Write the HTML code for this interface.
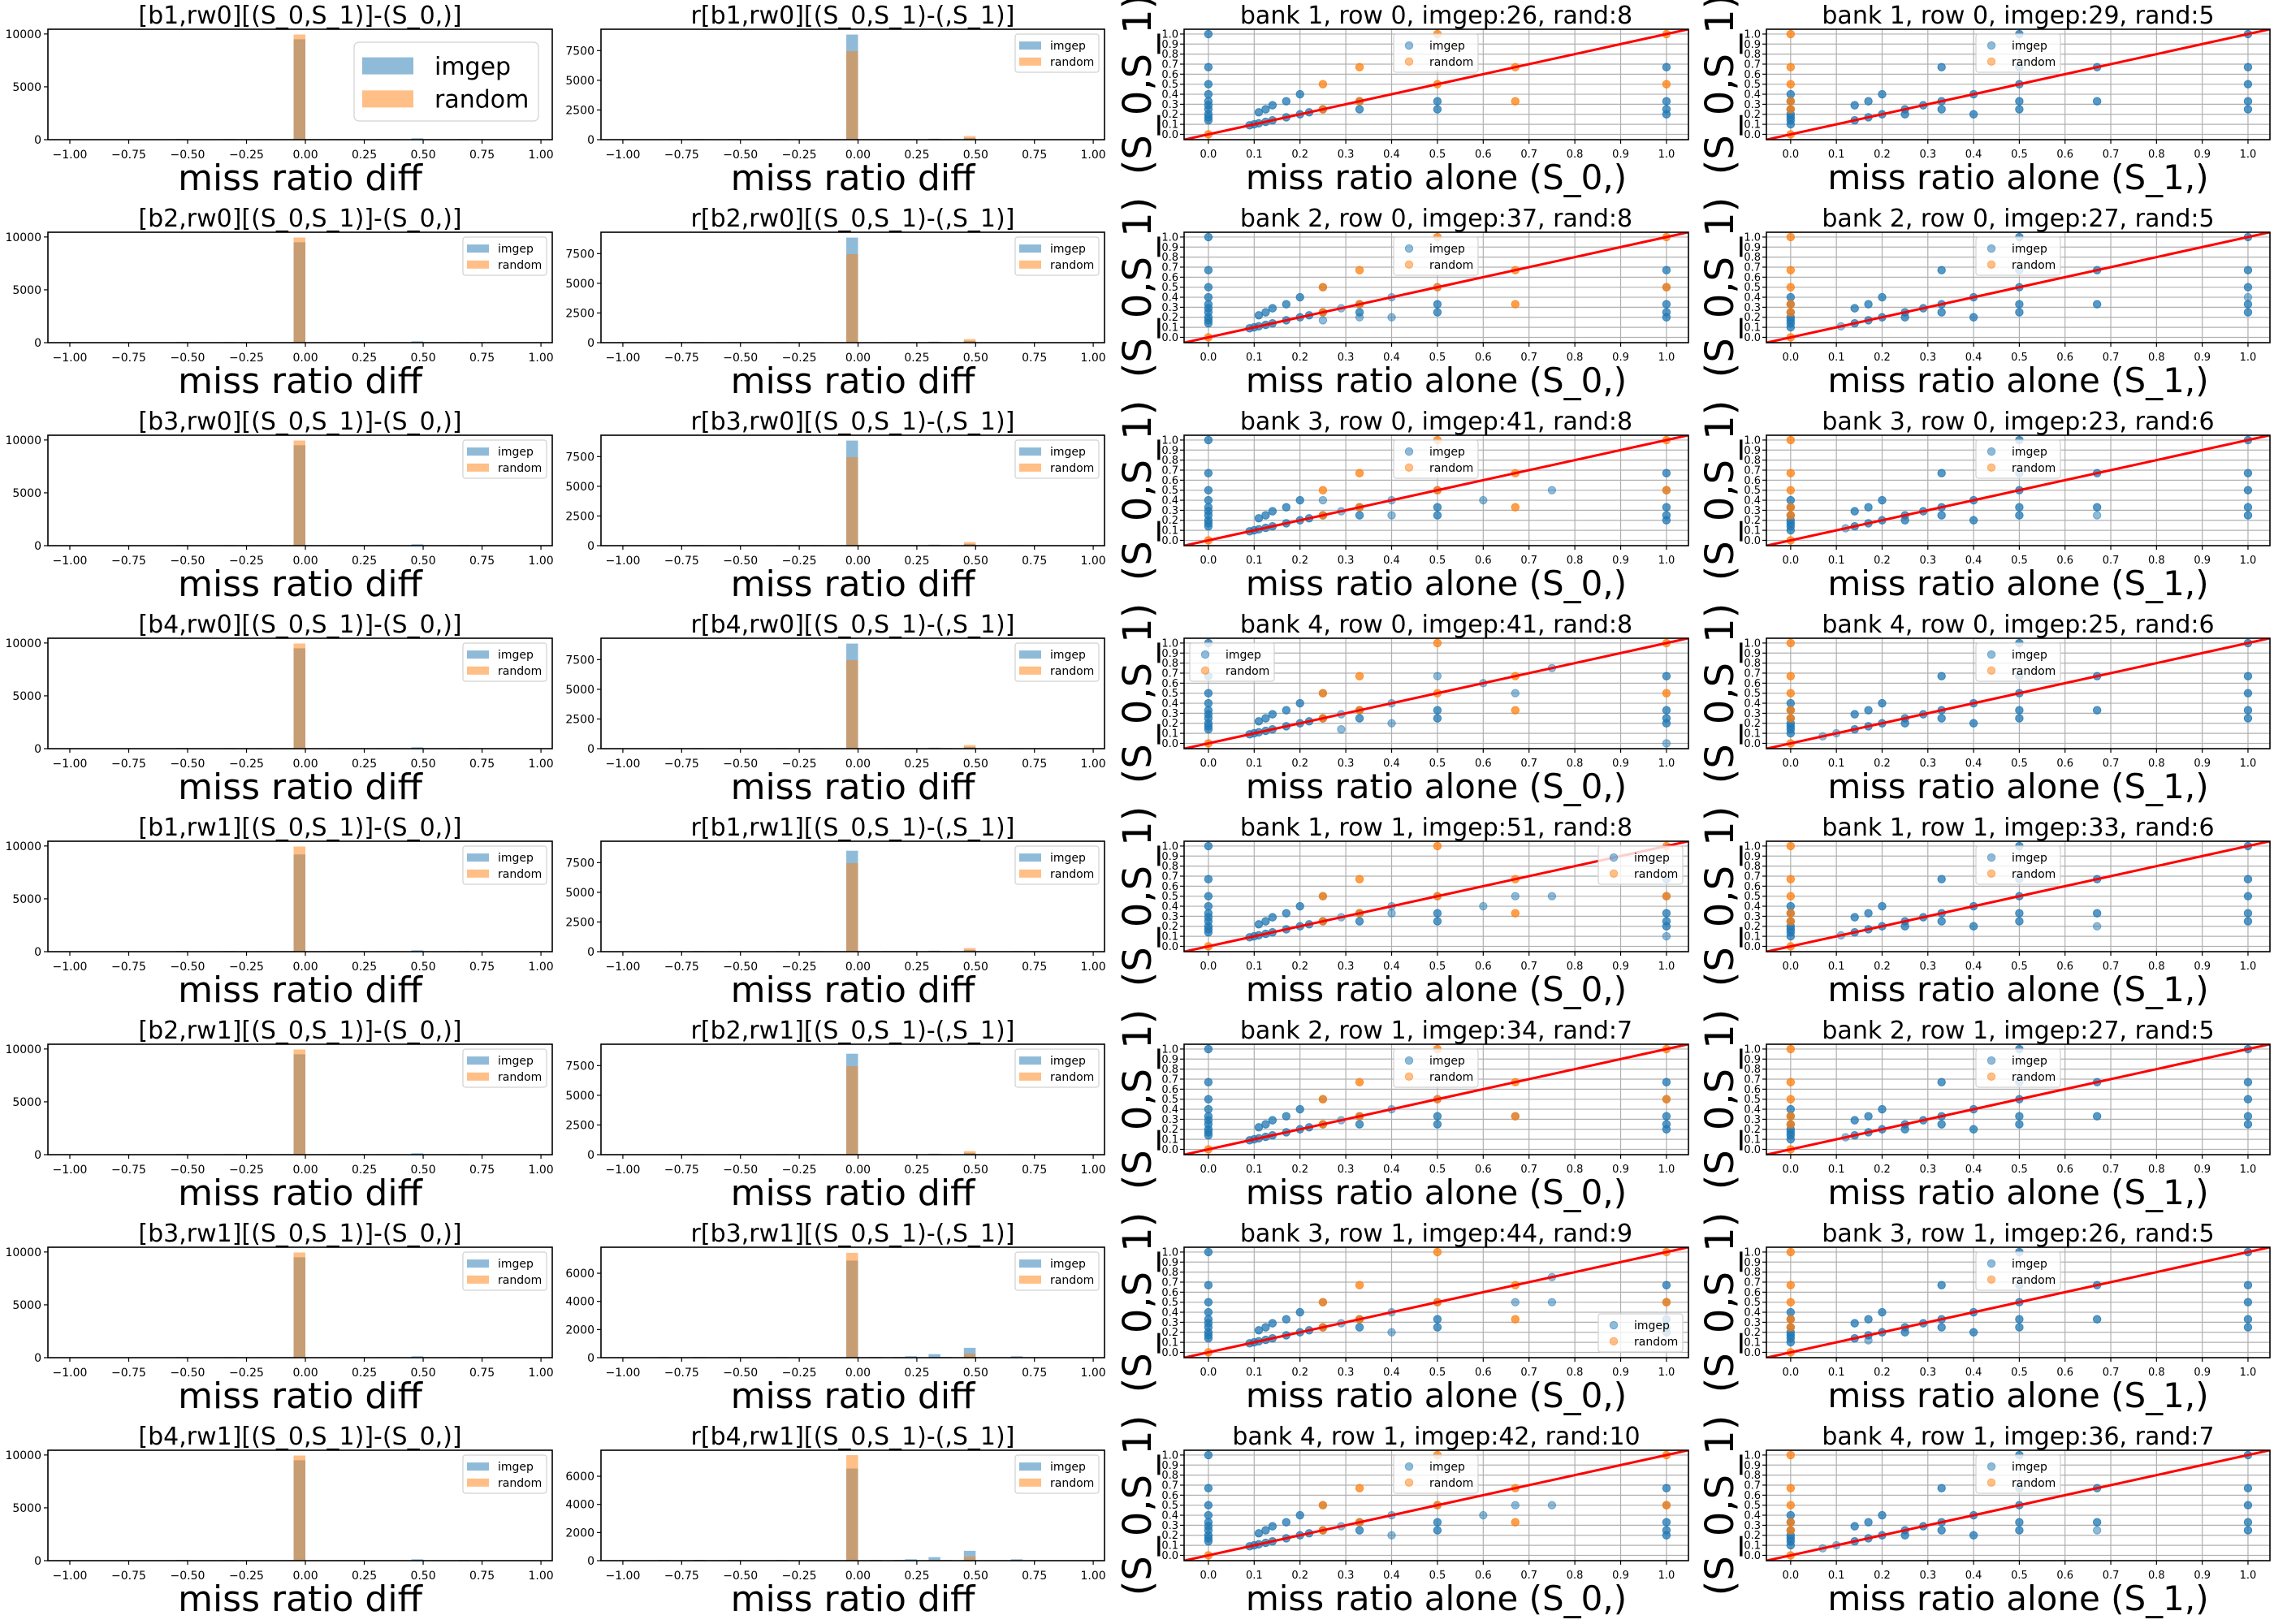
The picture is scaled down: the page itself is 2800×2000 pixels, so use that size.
<!DOCTYPE html>
<html><head><meta charset="utf-8"><title>miss ratio chart grid</title>
<style>
html,body{margin:0;padding:0;background:#fff;}
svg{display:block;font-family:"DejaVu Sans","Liberation Sans",sans-serif;}
</style></head>
<body>
<svg id="fig" xmlns="http://www.w3.org/2000/svg" width="2800" height="2000" viewBox="0 0 2800 2000">
<rect x="0" y="0" width="2800" height="2000" fill="#fff"/>
</svg>
<script>
// ---------- data ----------
const rowBanks = [1,2,3,4,1,2,3,4];
const rowRws = [0,0,0,0,1,1,1,1];
const col3Counts = [[26,8],[37,8],[41,8],[41,8],[51,8],[34,7],[44,9],[42,10]];
const col4Counts = [[29,5],[27,5],[23,6],[25,6],[33,6],[27,5],[26,5],[36,7]];
const col3LegendPos = ['uc','uc','uc','ul','ur','uc','lr','uc'];

const histXTicks = [-1.0,-0.75,-0.5,-0.25,0.0,0.25,0.5,0.75,1.0];
const histXTickLabels = ['\u22121.00','\u22120.75','\u22120.50','\u22120.25','0.00','0.25','0.50','0.75','1.00'];
const col1YTicks = [0,5000,10000];
const col1YMax = [10450,10450,10450,10450,10450,10450,10450,10450];
const col2YTicksA = [0,2500,5000,7500];
const col2YTicksB = [0,2000,4000,6000];
const col2YMax = [9300,9300,9300,9300,9300,9300,7850,7850];

// bins: [binLeft, count]
const col1ImgepPeak = [9500,9500,9500,9500,9200,9500,9500,9500];
const col1RandomPeak = [9950,9950,9950,9950,9950,9950,9950,9950];
const col1ImgepSmall = [[-0.55,60],[-0.35,60],[-0.2,50],[-0.1,50],[0.1,50],[0.15,50],[0.2,50],[0.35,50],[0.45,130],[0.65,60]];
const col1RandomSmall = [[-0.55,60],[0.3,50]];
const col2ImgepPeak = [8850,8850,8850,8850,8500,8500,6900,6550];
const col2RandomPeak = [7450,7450,7450,7450,7450,7450,7450,7500];
const col2ImgepSmallA = [[-0.8,50],[-0.7,50],[-0.55,50],[-0.35,50],[-0.2,50],[0.1,50],[0.15,50],[0.2,50],[0.3,80],[0.35,50],[0.45,150]];
const col2RandomSmallA = [[0.3,50],[0.45,300],[0.65,50]];
const col2ImgepSmallB = [[-0.85,50],[-0.7,50],[-0.55,50],[-0.35,50],[0.05,50],[0.15,50],[0.2,100],[0.3,250],[0.35,50],[0.45,700],[0.65,100]];
const col2RandomSmallB = [[0.3,40],[0.45,290],[0.65,40]];

const scatTicks = [0,0.1,0.2,0.3,0.4,0.5,0.6,0.7,0.8,0.9,1.0];
const scatTickLabels = ['0.0','0.1','0.2','0.3','0.4','0.5','0.6','0.7','0.8','0.9','1.0'];
const col3ImgepBase = [[0,1],[0,0.67],[0,0.5],[0,0.4],[0,0.33],[0,0.29],[0,0.25],[0,0.2],[0,0.17],[0,0.14],
 [0.09,0.09],[0.1,0.1],[0.11,0.11],[0.11,0.22],[0.125,0.125],[0.125,0.25],[0.14,0.14],[0.14,0.29],[0.17,0.17],[0.17,0.33],
 [0.2,0.2],[0.2,0.4],[0.22,0.22],[0.25,0.25],[0.33,0.25],[0.33,0.33],[0.5,0.33],[0.5,0.25],[1,0.67],[1,0.33],[1,0.25],[1,0.2]];
const col3RandomBase = [[0,0],[0.25,0.5],[0.25,0.25],[0.33,0.67],[0.33,0.33],[0.5,1],[0.5,0.5],[0.67,0.67],[0.67,0.33],[1,1],[1,0.5]];
const col3ImgepExtra = [
 [],
 [[0.25,0.5],[0.29,0.29],[0.4,0.4],[0.4,0.2],[0.5,0.5],[1,0.5],[0.25,0.17],[0.33,0.2]],
 [[0.25,0.4],[0.29,0.29],[0.4,0.4],[0.4,0.25],[0.5,0.5],[0.6,0.4],[0.75,0.5],[1,0.5]],
 [[0.25,0.5],[0.29,0.29],[0.29,0.14],[0.4,0.4],[0.4,0.2],[0.5,0.67],[0.6,0.6],[0.75,0.75],[0.67,0.5],[1,0]],
 [[0.25,0.5],[0.29,0.29],[0.4,0.4],[0.4,0.33],[0.5,0.5],[0.6,0.4],[0.67,0.5],[0.75,0.5],[1,0.5],[1,0.1]],
 [[0.25,0.5],[0.29,0.29],[0.4,0.4],[0.5,0.5],[0.67,0.33],[1,0.5]],
 [[0.25,0.5],[0.29,0.29],[0.4,0.4],[0.4,0.2],[0.5,0.5],[0.67,0.5],[0.75,0.75],[0.75,0.5],[1,0.5]],
 [[0.25,0.5],[0.29,0.29],[0.4,0.4],[0.4,0.2],[0.5,0.5],[0.6,0.4],[0.67,0.5],[0.75,0.5],[1,0.5]]
];
const col4ImgepBase = [[0,0.4],[0,0.33],[0,0.25],[0,0.2],[0,0.17],[0,0.14],[0,0.1],[0.14,0.14],[0.14,0.29],[0.17,0.17],[0.17,0.33],
 [0.2,0.2],[0.2,0.4],[0.25,0.25],[0.25,0.2],[0.29,0.29],[0.33,0.33],[0.33,0.25],[0.33,0.67],[0.4,0.4],[0.4,0.2],
 [0.5,1],[0.5,0.67],[0.5,0.5],[0.5,0.33],[0.5,0.25],[0.67,0.67],[0.67,0.33],[1,1],[1,0.67],[1,0.5],[1,0.33],[1,0.25]];
const col4RandomBase = [[0,0],[0,0.25],[0,0.33],[0,0.5],[0,0.67],[0,1]];
const col4ImgepExtra = [[],[[0.11,0.11],[1,0.4]],[[0.12,0.12],[0.67,0.25]],[[0.07,0.07],[0.1,0.1]],[[0.11,0.11],[0.67,0.2]],[[0.12,0.12]],[[0.17,0.12]],[[0.07,0.07],[0.1,0.1],[0.67,0.25]]];

// ---------- geometry ----------
const NS = 'http://www.w3.org/2000/svg';
const svg = document.getElementById('fig');
const colX = [[59,680],[740,1360],[1458,2079],[2175,2795]];
const ROW_TOP = 36, ROW_H = 136, ROW_PITCH = 250;
const BLUE = '#1f77b4', ORANGE = '#ff7f0e';

function el(tag, attrs, parent){
  const e = document.createElementNS(NS, tag);
  for (const k in attrs) e.setAttribute(k, attrs[k]);
  (parent||svg).appendChild(e);
  return e;
}
function txt(s, attrs, parent){ const t = el('text', attrs, parent); t.textContent = s; return t; }

function legend(g, x, y, w, h, fs, kind, big){
  const lg = el('g', {}, g);
  
  
  el('rect', {x:x, y:y, width:w, height:h, rx:big?6:3, fill:'#fff', 'fill-opacity':0.8, stroke:'#d0d0d0', 'stroke-width':1.2}, lg);
  const items = [['imgep', BLUE], ['random', ORANGE]];
  items.forEach((it, i) => {
    const e = el('g', {}, lg);
    
    
    const cy = y + h * (i === 0 ? 0.3 : 0.72);
    if (kind === 'patch') {
      const pw = big ? 63 : 27, ph = big ? 21 : 10;
      el('rect', {x:x + (big?10:5), y:cy - ph/2, width:pw, height:ph, fill:it[1], 'fill-opacity':0.5}, e);
      txt(it[0], {x:x + (big?99:43), y:cy + fs*0.36, 'font-size':fs, fill:'#000'}, e);
    } else {
      el('circle', {cx:x + 19, cy:cy, r:4.7, fill:it[1], 'fill-opacity':0.5, stroke:it[1], 'stroke-opacity':0.5}, e);
      txt(it[0], {x:x + 44, y:cy + fs*0.36, 'font-size':fs, fill:'#000'}, e);
    }
  });
}

function histPlot(row, col, title, yMax, yTicks, imgepBins, randomBins, bigLegend){
  const [x0, x1] = colX[col];
  const y0 = ROW_TOP + row * ROW_PITCH, y1 = y0 + ROW_H;
  const xmin = -1.093, xmax = 1.048;
  const sx = v => x0 + (v - xmin) / (xmax - xmin) * (x1 - x0);
  const sy = v => y1 - v / yMax * (y1 - y0);
  const g = el('g', {});
  
  
  const t = txt(title, {x:(x0+x1)/2, y:y0 - 7, 'font-size':30, 'text-anchor':'middle'}, g);
  
  
  [[imgepBins, BLUE, 'imgep'], [randomBins, ORANGE, 'random']].forEach(([bins, c, nm]) => {
    bins.forEach(b => {
      const r = el('rect', {x:sx(b[0]), y:sy(b[1]), width:sx(b[0]+0.05)-sx(b[0]), height:sy(0)-sy(b[1]), fill:c, 'fill-opacity':0.5}, g);
      
      
    });
  });
  el('rect', {x:x0, y:y0, width:x1-x0, height:y1-y0, fill:'none', stroke:'#000', 'stroke-width':1.6}, g);
  histXTicks.forEach((v, i) => {
    el('line', {x1:sx(v), x2:sx(v), y1:y1, y2:y1+5, stroke:'#000', 'stroke-width':1.2}, g);
    txt(histXTickLabels[i], {x:sx(v), y:y1+23, 'font-size':14, 'text-anchor':'middle'}, g);
  });
  yTicks.forEach(v => {
    el('line', {x1:x0-5, x2:x0, y1:sy(v), y2:sy(v), stroke:'#000', 'stroke-width':1.2}, g);
    txt(String(v), {x:x0-8, y:sy(v)+5, 'font-size':14, 'text-anchor':'end'}, g);
  });
  const xl = txt('miss ratio diff', {x:(x0+x1)/2, y:y1+62, 'font-size':44, 'text-anchor':'middle'}, g);
  
  
  if (bigLegend) legend(g, 436, y0+16, 227, 97, 30, 'patch', true);
  else legend(g, x1-110, y0+6, 103, 47, 14, 'patch', false);
}

function scatterPlot(row, col, title, imgepPts, randomPts, legendPos, xlabel){
  const [x0, x1] = colX[col];
  const y0 = ROW_TOP + row * ROW_PITCH, y1 = y0 + ROW_H;
  const lo = -0.053, hi = 1.048;
  const sx = v => x0 + (v - lo) / (hi - lo) * (x1 - x0);
  const sy = v => y1 - (v - lo) / (hi - lo) * (y1 - y0);
  const g = el('g', {});
  
  
  const t = txt(title, {x:(x0+x1)/2, y:y0 - 7, 'font-size':30, 'text-anchor':'middle'}, g);
  
  
  const cp = 'clip' + row + '_' + col;
  const cl = el('clipPath', {id:cp}, g);
  el('rect', {x:x0, y:y0, width:x1-x0, height:y1-y0}, cl);
  scatTicks.forEach(v => {
    el('line', {x1:sx(v), x2:sx(v), y1:y0, y2:y1, stroke:'#b0b0b0', 'stroke-width':1.2}, g);
    el('line', {x1:x0, x2:x1, y1:sy(v), y2:sy(v), stroke:'#b0b0b0', 'stroke-width':1.2}, g);
  });
  const pg = el('g', {'clip-path':'url(#' + cp + ')'}, g);
  [[imgepPts, BLUE, 'imgep'], [randomPts, ORANGE, 'random']].forEach(([pts, c, nm]) => {
    pts.forEach(p => {
      const m = el('circle', {cx:sx(p[0]), cy:sy(p[1]), r:4.7, fill:c, 'fill-opacity':0.5, stroke:c, 'stroke-opacity':0.5}, pg);
      
      
    });
  });
  const ln = el('line', {x1:sx(lo), y1:sy(lo), x2:sx(hi), y2:sy(hi), stroke:'#ff0000', 'stroke-width':3}, pg);
  
  
  el('rect', {x:x0, y:y0, width:x1-x0, height:y1-y0, fill:'none', stroke:'#000', 'stroke-width':1.6}, g);
  scatTicks.forEach((v, i) => {
    el('line', {x1:sx(v), x2:sx(v), y1:y1, y2:y1+5, stroke:'#000', 'stroke-width':1.2}, g);
    txt(scatTickLabels[i], {x:sx(v), y:y1+22, 'font-size':13, 'text-anchor':'middle'}, g);
    el('line', {x1:x0-5, x2:x0, y1:sy(v), y2:sy(v), stroke:'#000', 'stroke-width':1.2}, g);
    txt(scatTickLabels[i], {x:x0-7, y:sy(v)+4.5, 'font-size':13, 'text-anchor':'end'}, g);
  });
  const xl = txt(xlabel, {x:(x0+x1)/2, y:y1+61, 'font-size':42, 'text-anchor':'middle'}, g);
  
  
  const cy = (y0+y1)/2, bx = x0 - 41;
  const yl = txt('(S_0,S_1)', {x:bx, y:cy, 'font-size':48, 'text-anchor':'middle', transform:'rotate(-90 ' + bx + ' ' + cy + ')'}, g);
  
  
  const lw = 104, lh = 47;
  let lx = x0 + 258, ly = y0 + 6;
  if (legendPos === 'ul') lx = x0 + 7;
  if (legendPos === 'ur') lx = x1 - 7 - lw;
  if (legendPos === 'lr') { lx = x1 - 7 - lw; ly = y1 - 7 - lh; }
  legend(g, lx, ly, lw, lh, 14, 'marker', false);
}

for (let r = 0; r < 8; r++) {
  const b = rowBanks[r], w = rowRws[r];
  histPlot(r, 0, '[b' + b + ',rw' + w + '][(S_0,S_1)]-(S_0,)]', col1YMax[r], col1YTicks,
    col1ImgepSmall.concat([[-0.05, col1ImgepPeak[r]]]), col1RandomSmall.concat([[-0.05, col1RandomPeak[r]]]), r === 0);
  const late = r >= 6;
  histPlot(r, 1, 'r[b' + b + ',rw' + w + '][(S_0,S_1)-(,S_1)]', col2YMax[r], late ? col2YTicksB : col2YTicksA,
    (late ? col2ImgepSmallB : col2ImgepSmallA).concat([[-0.05, col2ImgepPeak[r]]]),
    (late ? col2RandomSmallB : col2RandomSmallA).concat([[-0.05, col2RandomPeak[r]]]), false);
  // base points drawn twice: repeated observations overlap and darken, as in the source
  scatterPlot(r, 2, 'bank ' + b + ', row ' + w + ', imgep:' + col3Counts[r][0] + ', rand:' + col3Counts[r][1],
    col3ImgepBase.concat(col3ImgepBase, col3ImgepExtra[r]), col3RandomBase.concat(col3RandomBase), col3LegendPos[r], 'miss ratio alone (S_0,)');
  scatterPlot(r, 3, 'bank ' + b + ', row ' + w + ', imgep:' + col4Counts[r][0] + ', rand:' + col4Counts[r][1],
    col4ImgepBase.concat(col4ImgepBase, col4ImgepExtra[r]), col4RandomBase.concat(col4RandomBase), 'uc', 'miss ratio alone (S_1,)');
}
</script>
</body></html>
